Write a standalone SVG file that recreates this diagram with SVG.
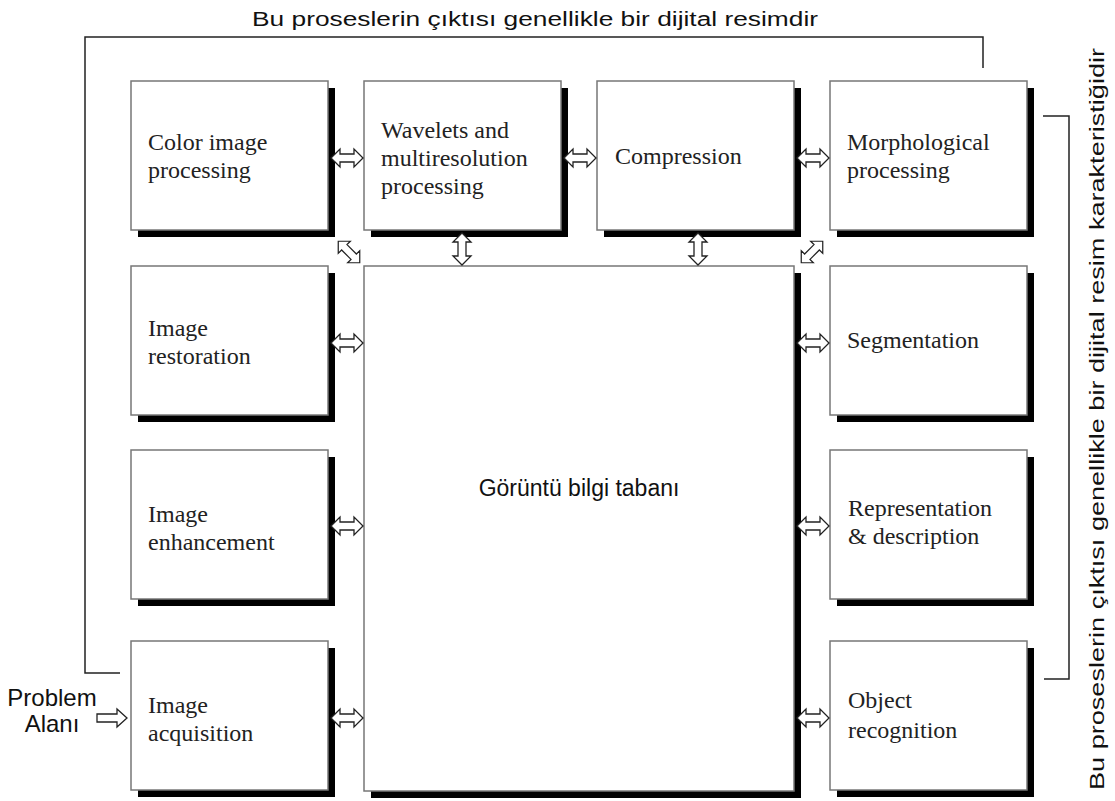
<svg xmlns="http://www.w3.org/2000/svg" width="1115" height="801" viewBox="0 0 1115 801">
<style>
.box{fill:#fff;stroke:#777;stroke-width:1.5}
.sh{fill:#000}
.lbl{font-family:"Liberation Serif","Times New Roman",serif;font-size:24px;fill:#222}
.sans{font-family:"Liberation Sans",Arial,sans-serif;font-size:24px;fill:#111}
.arr{fill:#fff;stroke:#222;stroke-width:1.3;stroke-linejoin:miter}
.ln{fill:none;stroke:#222;stroke-width:1.5}
</style>
<defs>
<path id="da" d="M-16,0 L-7,-9 L-7,-4 L7,-4 L7,-9 L16,0 L7,9 L7,4 L-7,4 L-7,9 Z"/>
</defs>
<rect width="1115" height="801" fill="#fff"/>

<g id="bracket-top">
<polyline class="ln" points="120,673 85,673 85,37 983,37 983,68"/>
<text class="sans" x="535" y="26" text-anchor="middle" style="font-size:20px" textLength="566" lengthAdjust="spacingAndGlyphs">Bu proseslerin çıktısı genellikle bir dijital resimdir</text>
</g>
<g id="bracket-right">
<polyline class="ln" points="1043,116 1069,116 1069,679 1044,679"/>
<text class="sans" transform="translate(1104,419) rotate(-90)" text-anchor="middle" style="font-size:20px" textLength="742" lengthAdjust="spacingAndGlyphs">Bu proseslerin çıktısı genellikle bir dijital resim karakteristiğidir</text>
</g>

<g id="problem">
<text class="sans" x="52" y="706" text-anchor="middle">Problem</text>
<text class="sans" x="52" y="732" text-anchor="middle">Alanı</text>
</g>

<g id="color">
<rect class="sh" x="138" y="88" width="197" height="149"/>
<rect class="box" x="131" y="81" width="197" height="149"/>
<text class="lbl" x="148" y="150">Color image</text>
<text class="lbl" x="148" y="178">processing</text>
</g>
<g id="wavelets">
<rect class="sh" x="371" y="88" width="197" height="149"/>
<rect class="box" x="364" y="81" width="197" height="149"/>
<text class="lbl" x="381" y="138">Wavelets and</text>
<text class="lbl" x="381" y="166">multiresolution</text>
<text class="lbl" x="381" y="194">processing</text>
</g>
<g id="compression">
<rect class="sh" x="604" y="88" width="197" height="149"/>
<rect class="box" x="597" y="81" width="197" height="149"/>
<text class="lbl" x="615" y="164">Compression</text>
</g>
<g id="morphological">
<rect class="sh" x="837" y="88" width="197" height="149"/>
<rect class="box" x="830" y="81" width="197" height="149"/>
<text class="lbl" x="847" y="150">Morphological</text>
<text class="lbl" x="847" y="178">processing</text>
</g>
<g id="restoration">
<rect class="sh" x="138" y="273" width="197" height="149"/>
<rect class="box" x="131" y="266" width="197" height="149"/>
<text class="lbl" x="148" y="336">Image</text>
<text class="lbl" x="148" y="364">restoration</text>
</g>
<g id="enhancement">
<rect class="sh" x="138" y="457" width="197" height="149"/>
<rect class="box" x="131" y="450" width="197" height="149"/>
<text class="lbl" x="148" y="522">Image</text>
<text class="lbl" x="148" y="550">enhancement</text>
</g>
<g id="acquisition">
<rect class="sh" x="138" y="648" width="197" height="149"/>
<rect class="box" x="131" y="641" width="197" height="149"/>
<text class="lbl" x="148" y="713">Image</text>
<text class="lbl" x="148" y="741">acquisition</text>
</g>
<g id="segmentation">
<rect class="sh" x="837" y="273" width="197" height="149"/>
<rect class="box" x="830" y="266" width="197" height="149"/>
<text class="lbl" x="847" y="348">Segmentation</text>
</g>
<g id="representation">
<rect class="sh" x="837" y="457" width="197" height="149"/>
<rect class="box" x="830" y="450" width="197" height="149"/>
<text class="lbl" x="848" y="516">Representation</text>
<text class="lbl" x="848" y="544">&amp; description</text>
</g>
<g id="object">
<rect class="sh" x="837" y="648" width="197" height="149"/>
<rect class="box" x="830" y="641" width="197" height="149"/>
<text class="lbl" x="848" y="708">Object</text>
<text class="lbl" x="848" y="738">recognition</text>
</g>
<g id="knowledge-base">
<rect class="sh" x="371" y="273" width="430" height="525"/>
<rect class="box" x="364" y="266" width="430" height="525"/>
<text class="sans" x="579" y="496" text-anchor="middle" style="font-size:23px">Görüntü bilgi tabanı</text>
</g>

<g id="connectors">
<path class="arr" d="M97,714 L117,714 L117,709 L127,718 L117,727 L117,722 L97,722 Z"/>
<use href="#da" class="arr" transform="translate(347,158)"/>
<use href="#da" class="arr" transform="translate(580,158)"/>
<use href="#da" class="arr" transform="translate(813,158)"/>
<use href="#da" class="arr" transform="translate(462,249) rotate(90)"/>
<use href="#da" class="arr" transform="translate(698,249) rotate(90)"/>
<use href="#da" class="arr" transform="translate(349,252) rotate(45) scale(0.95)"/>
<use href="#da" class="arr" transform="translate(812,252) rotate(-45) scale(0.95)"/>
<use href="#da" class="arr" transform="translate(347,343)"/>
<use href="#da" class="arr" transform="translate(347,526)"/>
<use href="#da" class="arr" transform="translate(347,718)"/>
<use href="#da" class="arr" transform="translate(813,343)"/>
<use href="#da" class="arr" transform="translate(813,526)"/>
<use href="#da" class="arr" transform="translate(813,718)"/>
</g>
</svg>
